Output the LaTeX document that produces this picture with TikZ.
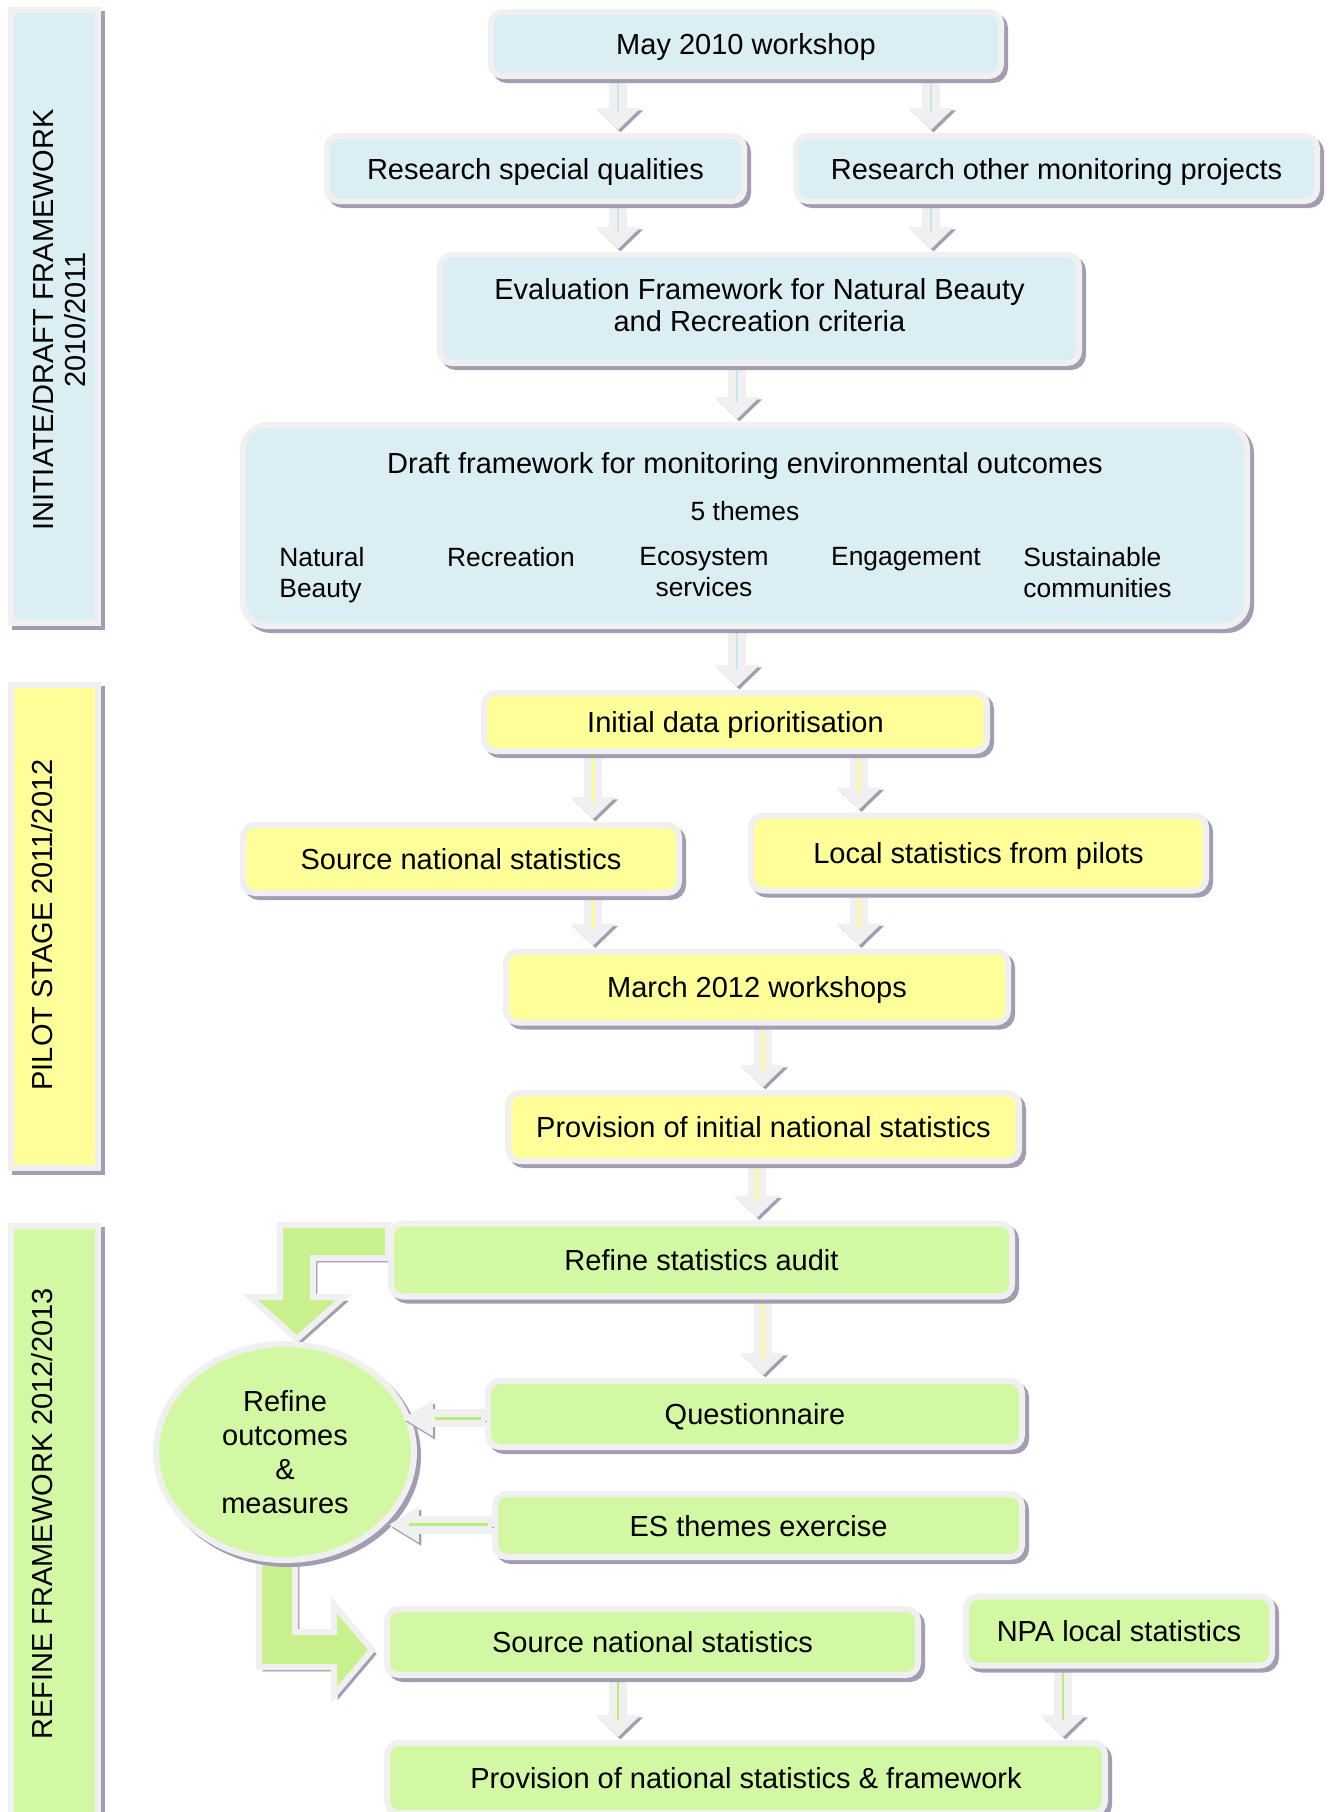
\documentclass[tikz,border=0pt]{standalone}
\usepackage{fontspec}
\setmainfont{Liberation Sans}
\usetikzlibrary{arrows.meta,shapes.geometric,shadows,backgrounds,calc}

\definecolor{boxblue}{HTML}{DAEEF3}
\definecolor{boxyellow}{HTML}{FFFF99}
\definecolor{boxgreen}{HTML}{D3F8A3}
\definecolor{arrowgreen}{HTML}{C8F08C}
\definecolor{rimgray}{HTML}{F0F0F0}
\definecolor{shade}{HTML}{A29DB0}
\definecolor{lineblue}{HTML}{C9E6F0}
\definecolor{lineyellow}{HTML}{FFFF70}
\definecolor{linegreen}{HTML}{B8EE7A}

\begin{document}
\begin{tikzpicture}[x=0.5pt, y=-0.5pt, % one unit is one pixel of the original, y runs downwards
        font=\fontsize{14.5}{16}\selectfont,
        box/.style={draw=rimgray, line width=3pt, rounded corners=6pt, inner sep=2pt, align=center,
            drop shadow={shadow xshift=2pt, shadow yshift=-2pt, fill=shade, draw=shade, opacity=1}},
        oneline/.style={text height=12.5pt, text depth=2pt}, % same baseline for every single line box
        initbox/.style={box, fill=boxblue},
        pilotbox/.style={box, oneline, fill=boxyellow},
        refinebox/.style={box, fill=boxgreen},
        bar/.style={box, rounded corners=0pt},
        wh/.style 2 args={minimum width=#1pt, minimum height=#2pt},
        theme/.style={inner sep=0pt, font=\fontsize{13.2}{15.5}\selectfont},
        flow/.style={line width=9pt, draw=rimgray, shorten >=1.5pt, -{Triangle[width=22pt,length=11pt]},
            preaction={draw=shade, -{Triangle[width=22pt,length=11pt]}, transform canvas={shift={(1.2pt,-1.2pt)}}},
            postaction={draw=#1, line width=1.2pt, -, shorten >=10pt, shorten <=2pt}}, % block arrow
        sideflow/.style={line width=9pt, draw=rimgray, -{Triangle[width=17pt,length=15pt]},
            preaction={draw=shade, -{Triangle[width=17pt,length=15pt]}, transform canvas={shift={(1.2pt,-1.5pt)}}},
            postaction={draw=linegreen, line width=1.2pt, -, shorten >=12pt, shorten <=2pt}},
        bigflow/.style={fill=arrowgreen, draw=rimgray, line width=3pt, line join=miter,
            preaction={fill=shade, draw=shade, transform canvas={shift={(2pt,-2pt)}}}},
    ]
    \useasboundingbox (0,0) rectangle (1329,1812);

    % stage bars
    \node[bar, fill=boxblue, wh={43.5}{306.5}] (initbar) at (54.5,316.5) {};
    \node[bar, fill=boxyellow, wh={43.5}{241.5}] (pilotbar) at (54.5,926.5) {};
    \node[bar, fill=boxgreen, wh={43.5}{302}] (refinebar) at (54.5,1528) {};
    \node[rotate=90, align=center] (initlabel) at (59,320) {INITIATE/DRAFT FRAMEWORK\\2010/2011};
    \node[rotate=90] (pilotlabel) at (42,925) {PILOT STAGE 2011/2012};
    \node[rotate=90] (refinelabel) at (42,1514) {REFINE FRAMEWORK 2012/2013};

    % initiate
    \node[initbox, oneline, wh={255}{32}] (may) at (746,44) {May 2010 workshop};
    \node[initbox, oneline, wh={208.5}{32.5}] (rsq) at (535.5,168.5) {Research special qualities};
    \node[initbox, oneline, wh={260.5}{32.5}] (romp) at (1056.5,168.5) {Research other monitoring projects};
    \node[initbox, wh={319.5}{54}, text depth=4pt] (eval) at (759.5,309) {Evaluation Framework for Natural Beauty\\and Recreation criteria};
    \node[initbox, wh={502}{100.5}, rounded corners=12pt] (draft) at (745,525.5) {};
    \node (drafttitle) at (745,466) {Draft framework for monitoring environmental outcomes};
    \node[theme] (themes) at (745,511) {5 themes};
    \node[theme, anchor=north west, align=left] (nb) at (279,547) {Natural\\Beauty};
    \node[theme, anchor=north] (rec) at (511,547) {Recreation};
    \node[theme, anchor=north, align=center] (eco) at (704,547) {Ecosystem\\services};
    \node[theme, anchor=north] (eng) at (906,547) {Engagement};
    \node[theme, anchor=north west, align=left] (sus) at (1023,547) {Sustainable\\communities};

    % pilot
    \node[pilotbox, wh={251.5}{29}] (idp) at (735.5,722) {Initial data prioritisation};
    \node[pilotbox, wh={218}{34}] (sns) at (461,859) {Source national statistics};
    \node[pilotbox, wh={227.5}{37.5}] (lsp) at (978.5,853) {Local statistics from pilots};
    \node[pilotbox, wh={251}{35.5}] (march) at (757,987) {March 2012 workshops};
    \node[pilotbox, wh={255.5}{34}] (provi) at (763.5,1127) {Provision of initial national statistics};

    % refine
    \node[refinebox, oneline, wh={310.5}{36.5}] (audit) at (701.5,1260) {Refine statistics audit};
    \node[refinebox, ellipse, wh={129}{108}, inner sep=0pt, font=\fontsize{14.5}{17}\selectfont] (measures) at (285,1452) {Refine\\outcomes\\\&\\measures};
    \node[refinebox, oneline, wh={267}{33}] (quest) at (755,1414) {Questionnaire};
    \node[refinebox, oneline, wh={263.5}{31.5}] (es) at (758.5,1525.5) {ES themes exercise};
    \node[refinebox, oneline, wh={265.5}{33}] (sns2) at (652.5,1642) {Source national statistics};
    \node[refinebox, oneline, wh={153}{34.5}] (npa) at (1119,1631) {NPA local statistics};
    \node[refinebox, oneline, wh={359}{35}] (final) at (746,1778) {Provision of national statistics \& framework};

    \begin{scope}[on background layer]
        \fill[white] (0,0) rectangle (1329,1812);
        \draw[flow=lineblue] (618,0 |- may.south) -- (618,0 |- rsq.north);
        \draw[flow=lineblue] (931,0 |- may.south) -- (931,0 |- romp.north);
        \draw[flow=lineblue] (618,0 |- rsq.south) -- (618,0 |- eval.north);
        \draw[flow=lineblue] (931,0 |- romp.south) -- (931,0 |- eval.north);
        \draw[flow=lineblue] (737,0 |- eval.south) -- (737,0 |- draft.north);
        \draw[flow=lineblue] (737,0 |- draft.south) -- (737,0 |- idp.north);
        \draw[flow=lineyellow] (593,0 |- idp.south) -- (593,0 |- sns.north);
        \draw[flow=lineyellow] (859,0 |- idp.south) -- (859,0 |- lsp.north);
        \draw[flow=lineyellow] (593,0 |- sns.south) -- (593,0 |- march.north);
        \draw[flow=lineyellow] (859,0 |- lsp.south) -- (859,0 |- march.north);
        \draw[flow=lineyellow] (763,0 |- march.south) -- (763,0 |- provi.north);
        \draw[flow=lineyellow] (757,0 |- provi.south) -- (757,0 |- audit.north);
        \draw[flow=lineyellow] (763,0 |- audit.south) -- (763,0 |- quest.north);
        \draw[flow=linegreen] (618,0 |- sns2.south) -- (618,0 |- final.north);
        \draw[flow=linegreen] (1063,0 |- npa.south) -- (1063,0 |- final.north);
        % big turning arrows
        \path[bigflow] (audit.west |- 0,1225) -- (280,1225) -- (280,1297) -- (250,1297)
            -- ($(measures.north)+(12,-2)$) -- (344,1297) -- (313,1297) -- (313,1258) -- (audit.west |- 0,1258) -- cycle;
        \path[bigflow] (259,1540) -- (259,1667) -- (334,1667) -- (334,1695)
            -- ($(sns2.west)+(-12,8)$) -- (334,1605) -- (334,1632) -- (295,1632) -- (295,1540) -- cycle;
    \end{scope}

    \draw[sideflow, shorten >=-4pt] (quest.west |- measures.15) -- (measures.15);
    \draw[sideflow, shorten >=2pt] (es.west |- measures.-36) -- (measures.-36);
\end{tikzpicture}
\end{document}
